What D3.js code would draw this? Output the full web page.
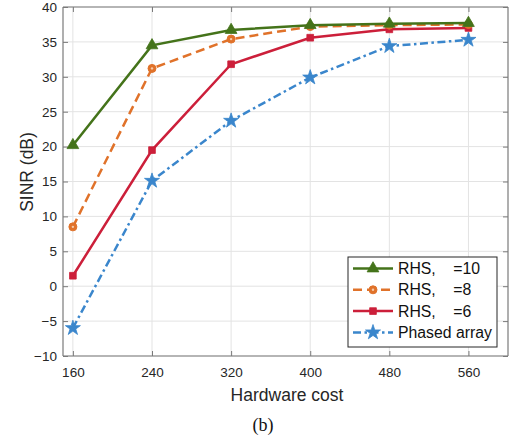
<!DOCTYPE html>
<html><head><meta charset="utf-8">
<script src="https://cdn.jsdelivr.net/npm/d3@7"></script>
<style>body{margin:0;background:#fff}svg{display:block}</style>
</head><body>
<svg id="c" width="513" height="443"></svg>
<script>
const xCats = [160, 240, 320, 400, 480, 560];
const yTicks = [-10, -5, 0, 5, 10, 15, 20, 25, 30, 35, 40];
const rhs10 = [20.2, 34.5, 36.7, 37.4, 37.6, 37.7];
const rhs8 = [8.5, 31.2, 35.4, 37.2, 37.4, 37.5];
const rhs6 = [1.5, 19.5, 31.8, 35.6, 36.8, 37.0];
const phased = [-6.0, 15.1, 23.7, 29.9, 34.4, 35.3];
const seriesNames = ["RHS,    =10", "RHS,    =8", "RHS,    =6", "Phased array"];

const series = [
  {name: seriesNames[0], vals: rhs10, color: "#44731a", dash: null, sym: d3.symbolTriangle, size: 60},
  {name: seriesNames[1], vals: rhs8, color: "#e0722a", dash: "9,5", sym: "circle", size: 50},
  {name: seriesNames[2], vals: rhs6, color: "#cc1f3a", dash: null, sym: d3.symbolSquare, size: 45},
  {name: seriesNames[3], vals: phased, color: "#3a86cc", dash: "8,3.5,2.5,3.5", sym: d3.symbolStar, size: 70}
];

const svg = d3.select("#c");
const L = 63, R = 508, T = 7, B = 356;
const x = d3.scaleLinear().domain([150, 600]).range([L, R]);
const y = d3.scaleLinear().domain([-10, 40]).range([B, T]);

// grid
const g = svg.append("g");
g.selectAll(".gx").data(xCats).enter().append("line")
  .attr("x1", d => x(d)).attr("x2", d => x(d)).attr("y1", T).attr("y2", B)
  .attr("stroke", "#e3e3e3").attr("stroke-width", 1);
g.selectAll(".gy").data(yTicks).enter().append("line")
  .attr("x1", L).attr("x2", R).attr("y1", d => y(d)).attr("y2", d => y(d))
  .attr("stroke", "#e3e3e3").attr("stroke-width", 1);

// axes
const axCol = "#7a7a7a";
const xAx = svg.append("g").attr("transform", `translate(0,${B})`)
  .call(d3.axisBottom(x).tickValues(xCats).tickSizeInner(-5).tickSizeOuter(0).tickPadding(11));
const xAxT = svg.append("g").attr("transform", `translate(0,${T})`)
  .call(d3.axisTop(x).tickValues(xCats).tickSizeInner(-5).tickSizeOuter(0).tickFormat(""));
const yAx = svg.append("g").attr("transform", `translate(${L},0)`)
  .call(d3.axisLeft(y).tickValues(yTicks).tickSizeInner(-5).tickSizeOuter(0).tickPadding(6));
const yAxR = svg.append("g").attr("transform", `translate(${R},0)`)
  .call(d3.axisRight(y).tickValues(yTicks).tickSizeInner(-5).tickSizeOuter(0).tickFormat(""));
[xAx, xAxT, yAx, yAxR].forEach(a => {
  a.select(".domain").attr("stroke", axCol).attr("stroke-width", 1.2);
  a.selectAll(".tick line").attr("stroke", axCol);
  a.selectAll("text").attr("font-family", "Liberation Sans, Arial, sans-serif")
    .attr("font-size", 13.5).attr("fill", "#262626");
});
xAx.select(".domain").attr("d", `M${L},0H${R}`);
xAxT.select(".domain").attr("d", `M${L},0H${R}`);
yAx.select(".domain").attr("d", `M0,${T}V${B}`);
yAxR.select(".domain").attr("d", `M0,${T}V${B}`);

// lines
const line = d3.line().x((d, i) => x(xCats[i])).y(d => y(d));
function drawMarker(sel, s, cx, cy) {
  if (s.sym === "circle") {
    sel.append("circle").attr("cx", cx).attr("cy", cy).attr("r", 4)
      .attr("fill", s.color).attr("stroke", s.color);
    sel.append("circle").attr("cx", cx).attr("cy", cy).attr("r", 1.2).attr("fill", "#f6c9a8");
  } else {
    sel.append("path").attr("d", d3.symbol().type(s.sym).size(s.size)())
      .attr("transform", `translate(${cx},${cy})`).attr("fill", s.color).attr("stroke", s.color).attr("stroke-width", 0.8);
  }
}
series.slice().reverse().forEach(s => {
  svg.append("path").datum(s.vals).attr("d", line).attr("fill", "none")
    .attr("stroke", s.color).attr("stroke-width", 2.5)
    .attr("stroke-dasharray", s.dash);
  const mg = svg.append("g");
  s.vals.forEach((v, i) => drawMarker(mg, s, x(xCats[i]), y(v)));
});

// labels
svg.append("text").attr("x", 287).attr("y", 401).attr("text-anchor", "middle")
  .attr("font-family", "Liberation Sans, Arial, sans-serif").attr("font-size", 17.5).attr("fill", "#262626")
  .text("Hardware cost");
svg.append("text").attr("transform", `translate(33,172) rotate(-90)`).attr("text-anchor", "middle")
  .attr("font-family", "Liberation Sans, Arial, sans-serif").attr("font-size", 17.5).attr("fill", "#262626")
  .text("SINR (dB)");
svg.append("text").attr("x", 263).attr("y", 431).attr("text-anchor", "middle")
  .attr("font-family", "Liberation Serif, Times New Roman, serif").attr("font-size", 18).attr("fill", "#111")
  .text("(b)");

// legend
const lg = svg.append("g");
lg.append("rect").attr("x", 348).attr("y", 257).attr("width", 149).attr("height", 90)
  .attr("fill", "#fff").attr("stroke", "#262626").attr("stroke-width", 1);
series.forEach((s, i) => {
  const ly = 268.5 + i * 21.3;
  lg.append("line").attr("x1", 353).attr("x2", 393).attr("y1", ly).attr("y2", ly)
    .attr("stroke", s.color).attr("stroke-width", 2.5).attr("stroke-dasharray", s.dash);
  drawMarker(lg, s, 373, ly);
  lg.append("text").attr("x", 398).attr("y", ly + 5.5).attr("xml:space", "preserve")
    .style("white-space", "pre")
    .attr("font-family", "Liberation Sans, Arial, sans-serif").attr("font-size", 15.8).attr("fill", "#111")
    .text(s.name);
});
</script>
</body></html>
